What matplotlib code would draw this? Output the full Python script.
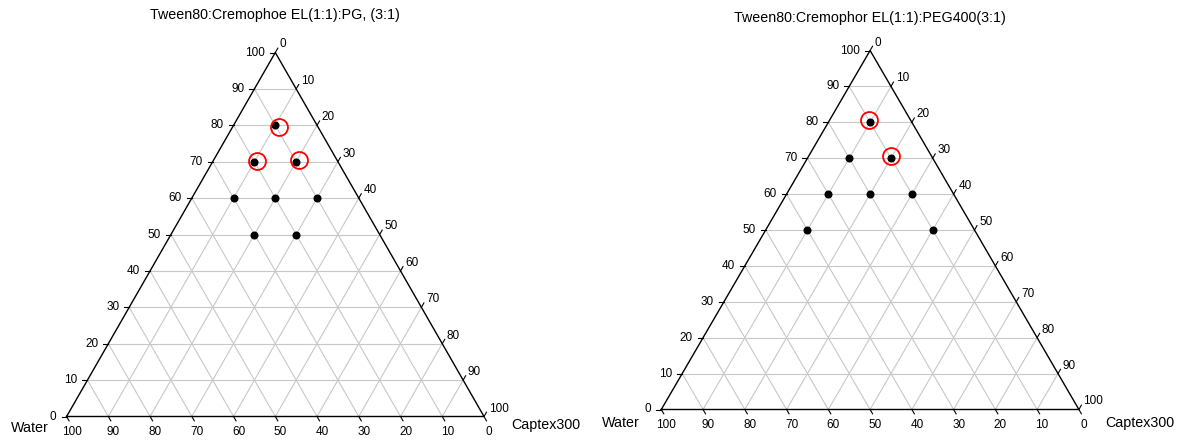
import numpy as np
import matplotlib
matplotlib.use("Agg")
import matplotlib.pyplot as plt

plt.rcParams['font.family'] = ['Liberation Sans', 'DejaVu Sans']

# ---------------- data ----------------
titles = ["Tween80:Cremophoe EL(1:1):PG, (3:1)",
          "Tween80:Cremophor EL(1:1):PEG400(3:1)"]
left_vertex_label = "Water"
right_vertex_label = "Captex300"
tick_values = [0, 10, 20, 30, 40, 50, 60, 70, 80, 90, 100]

# points: Smix (top), Water (bottom-left), Captex300 (bottom-right), in %
p1_smix = [80, 70, 70, 60, 60, 60, 50, 50]
p1_water = [10, 20, 10, 30, 20, 10, 30, 20]
p1_captex = [10, 10, 20, 10, 20, 30, 20, 30]
# red circles (hand-drawn, slightly off-centre)
c1_smix = [79.4, 70.2, 70.5]
c1_captex = [11.1, 10.4, 20.5]

p2_smix = [80, 70, 70, 60, 60, 60, 50, 50]
p2_water = [10, 20, 10, 30, 20, 10, 40, 10]
p2_captex = [10, 10, 20, 10, 20, 30, 10, 40]
c2_smix = [80.6, 70.5]
c2_captex = [9.4, 19.7]

# ---------------- layout (pixels) ----------------
W, H = 1187, 441
fig = plt.figure(figsize=(W / 100, H / 100), dpi=100)

panels = [
    dict(x0=66.6, w=417.4, top=52.5, bot=416.5, title_y=15,
         water=(30, 428), captex=(511, 425),
         smix=p1_smix, captexv=p1_captex, csmix=c1_smix, ccap=c1_captex,
         title=titles[0]),
    dict(x0=661.3, w=417.6, top=50.5, bot=409.5, title_y=18,
         water=(620.5, 423), captex=(1105, 423),
         smix=p2_smix, captexv=p2_captex, csmix=c2_smix, ccap=c2_captex,
         title=titles[1]),
]

h = np.sqrt(3) / 2
YMAX = 100 * h


def tern(s, c):
    s = np.asarray(s, float)
    c = np.asarray(c, float)
    return c + s / 2, s * h


grid_color = '#c8c8c8'
for p in panels:
    ax = fig.add_axes([p['x0'] / W, (H - p['bot']) / H, p['w'] / W,
                       (p['bot'] - p['top']) / H])
    ax.set_xlim(0, 100)
    ax.set_ylim(0, YMAX)
    ax.axis('off')
    pxu = p['w'] / 100.0                      # px per x unit
    pyu = (p['bot'] - p['top']) / YMAX        # px per y unit

    def px(dx, dy):
        return dx / pxu, dy / pyu

    # grid
    for v in tick_values[1:-1]:
        # constant Smix
        ax.plot([v / 2, 100 - v / 2], [v * h, v * h], color=grid_color, lw=0.8, zorder=1)
        # constant Captex
        ax.plot([v, v + (100 - v) / 2], [0, (100 - v) * h], color=grid_color, lw=0.8, zorder=1)
        # constant Water
        ax.plot([100 - v, (100 - v) / 2], [0, (100 - v) * h], color=grid_color, lw=0.8, zorder=1)

    # edges
    ax.plot([0, 100, 50, 0], [0, 0, YMAX, 0], color='black', lw=1.0, zorder=2,
            clip_on=False, solid_joinstyle='miter')

    tl = 5.0  # tick length px
    fs = 8.5
    for v in tick_values:
        # left axis: Smix
        x, y = v / 2, v * h
        dx, dy = px(-tl, 0)
        ax.plot([x, x + dx], [y, y + dy], color='black', lw=0.8, clip_on=False)
        ox, oy = px(-10, 0)
        ax.text(x + ox, y + oy, str(v), ha='right', va='center', fontsize=fs)
        # bottom axis: Water
        x, y = 100 - v, 0
        dx, dy = px(0.5 * tl, -0.866 * tl)
        ax.plot([x, x + dx], [y, y + dy], color='black', lw=0.8, clip_on=False)
        ox, oy = px(5, -15.5)
        ax.text(x + ox, y + oy, str(v), ha='center', va='center', fontsize=fs)
        # right axis: Captex
        x, y = v + (100 - v) / 2, (100 - v) * h
        dx, dy = px(0.5 * tl, 0.866 * tl)
        ax.plot([x, x + dx], [y, y + dy], color='black', lw=0.8, clip_on=False)
        ox, oy = px(4.6, 8)
        ax.text(x + ox, y + oy, str(v), ha='left', va='center', fontsize=fs)

    # points
    xs, ys = tern(p['smix'], p['captexv'])
    ax.plot(xs, ys, 'o', color='black', ms=5.8, mew=0, zorder=4, clip_on=False)
    cx, cy = tern(p['csmix'], p['ccap'])
    ax.plot(cx, cy, 'o', mfc='none', mec='#ff0000', ms=12.2, mew=1.3, zorder=5,
            clip_on=False)

    # vertex labels and title (figure pixel coords)
    fig.text(p['water'][0] / W, 1 - p['water'][1] / H, left_vertex_label,
             ha='center', va='center', fontsize=10.3)
    fig.text(p['captex'][0] / W, 1 - p['captex'][1] / H, right_vertex_label,
             ha='left', va='center', fontsize=10.3)
    fig.text((p['x0'] + p['w'] / 2) / W, 1 - p['title_y'] / H, p['title'],
             ha='center', va='center', fontsize=10.3)

fig.savefig('out.png', dpi=100)
